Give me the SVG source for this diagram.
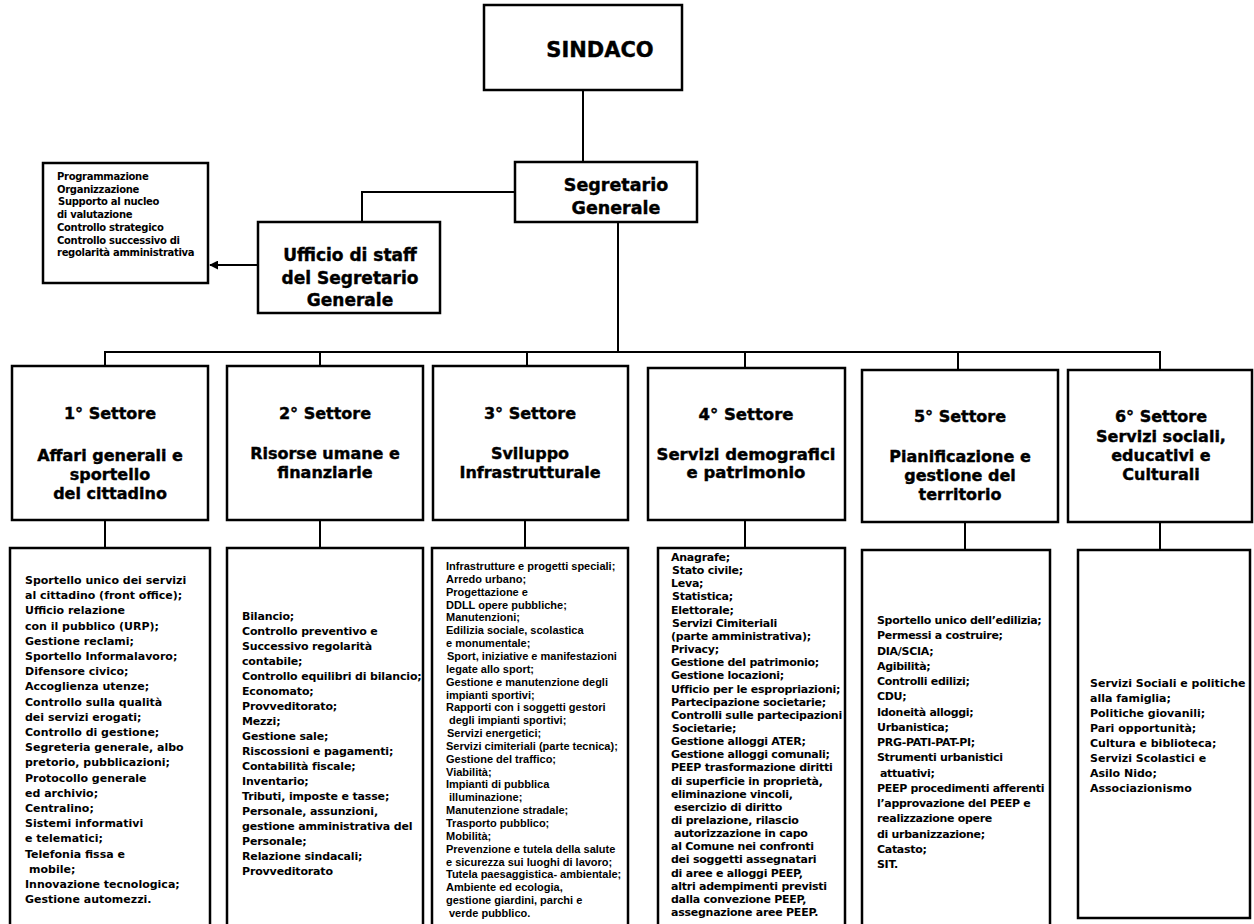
<svg xmlns="http://www.w3.org/2000/svg" width="1254" height="924" viewBox="0 0 1254 924">
<style>
.box{fill:#fff;stroke:#000;stroke-width:2.5}
.ln{fill:none;stroke:#000;stroke-width:2}
.h{font-family:"DejaVu Sans",Verdana,sans-serif;font-weight:bold;fill:#000;text-anchor:middle;stroke:#000;stroke-width:0.4}
.l{font-family:"DejaVu Sans",Verdana,sans-serif;font-weight:bold;fill:#000;font-size:11px}
.n{font-family:"Liberation Sans",Arial,sans-serif;font-weight:bold;fill:#000;font-size:11px}
.s{font-size:10px;letter-spacing:-0.3px}
</style>
<defs>
<marker id="arr" viewBox="0 0 10 10" refX="9" refY="5" markerWidth="4.5" markerHeight="4.5" orient="auto" markerUnits="strokeWidth">
<path d="M0,0 L10,5 L0,10 z" fill="#000"/>
</marker>
</defs>
<rect width="1254" height="924" fill="#fff"/>
<g id="connectors">
<line class="ln" x1="583" y1="90" x2="583" y2="162"/>
<polyline class="ln" points="515,192 362,192 362,222"/>
<line class="ln" x1="618" y1="222" x2="618" y2="352"/>
<line class="ln" x1="258" y1="265" x2="210" y2="265" stroke-width="2.5" marker-end="url(#arr)"/>
<line class="ln" x1="104" y1="352" x2="1161" y2="352"/>
<line class="ln" x1="105" y1="352" x2="105" y2="366"/>
<line class="ln" x1="320" y1="352" x2="320" y2="366"/>
<line class="ln" x1="527" y1="352" x2="527" y2="366"/>
<line class="ln" x1="745" y1="352" x2="745" y2="368"/>
<line class="ln" x1="958" y1="352" x2="958" y2="370"/>
<line class="ln" x1="1160" y1="352" x2="1160" y2="370"/>
<line class="ln" x1="105" y1="520" x2="105" y2="548"/>
<line class="ln" x1="320" y1="520" x2="320" y2="548"/>
<line class="ln" x1="525" y1="520" x2="525" y2="548"/>
<line class="ln" x1="745" y1="520" x2="745" y2="548"/>
<line class="ln" x1="965" y1="522" x2="965" y2="550"/>
<line class="ln" x1="1160" y1="522" x2="1160" y2="550"/>
</g>
<g id="sindaco">
<rect class="box" x="484" y="5" width="198" height="85"/>
<text class="h" x="600" y="57" font-size="21">SINDACO</text>
</g>
<g id="segretario">
<rect class="box" x="515" y="162" width="182" height="60"/>
<text class="h" x="616" y="191" font-size="17.5">Segretario</text>
<text class="h" x="616" y="214" font-size="17.5">Generale</text>
</g>
<g id="ufficio-staff">
<rect class="box" x="258" y="222" width="182" height="91"/>
<text class="h" x="350" y="261" font-size="17">Ufficio di staff</text>
<text class="h" x="350" y="284" font-size="17">del Segretario</text>
<text class="h" x="350" y="306" font-size="17">Generale</text>
</g>
<g id="staff-funzioni">
<rect class="box" x="43" y="163" width="165" height="120"/>
<text class="l s">
<tspan x="57" y="180">Programmazione</tspan>
<tspan x="57" y="192.7">Organizzazione</tspan>
<tspan x="58" y="205.4">Supporto al nucleo</tspan>
<tspan x="57" y="218.1">di valutazione</tspan>
<tspan x="57" y="230.8">Controllo strategico</tspan>
<tspan x="57" y="243.5">Controllo successivo di</tspan>
<tspan x="57" y="256.2">regolarità amministrativa</tspan>
</text>
</g>
<g id="settore1">
<rect class="box" x="12" y="366" width="196" height="154"/>
<text class="h" font-size="16"><tspan x="110" y="419">1° Settore</tspan><tspan x="110" y="461">Affari generali e</tspan><tspan x="110" y="480">sportello</tspan><tspan x="110" y="499">del cittadino</tspan></text>
</g>
<g id="settore2">
<rect class="box" x="227" y="366" width="196" height="154"/>
<text class="h" font-size="16"><tspan x="325" y="419">2° Settore</tspan><tspan x="325" y="459">Risorse umane e</tspan><tspan x="325" y="478">finanziarie</tspan></text>
</g>
<g id="settore3">
<rect class="box" x="433" y="366" width="195" height="154"/>
<text class="h" font-size="16"><tspan x="530" y="419">3° Settore</tspan><tspan x="530" y="459">Sviluppo</tspan><tspan x="530" y="478">Infrastrutturale</tspan></text>
</g>
<g id="settore4">
<rect class="box" x="648" y="368" width="197" height="152"/>
<text class="h" font-size="16.5"><tspan x="746" y="420">4° Settore</tspan><tspan x="746" y="460">Servizi demografici</tspan><tspan x="746" y="478">e patrimonio</tspan></text>
</g>
<g id="settore5">
<rect class="box" x="862" y="370" width="196" height="152"/>
<text class="h" font-size="16"><tspan x="960" y="422">5° Settore</tspan><tspan x="960" y="462">Pianificazione e</tspan><tspan x="960" y="481">gestione del</tspan><tspan x="960" y="500">territorio</tspan></text>
</g>
<g id="settore6">
<rect class="box" x="1068" y="370" width="184" height="152"/>
<text class="h" font-size="16"><tspan x="1161" y="422">6° Settore</tspan><tspan x="1161" y="442">Servizi sociali,</tspan><tspan x="1161" y="461">educativi e</tspan><tspan x="1161" y="480">Culturali</tspan></text>
</g>
<g id="funzioni1">
<rect class="box" x="10" y="548" width="200" height="380"/>
<text class="l">
<tspan x="25" y="584">Sportello unico dei servizi</tspan>
<tspan x="25" y="599.2">al cittadino (front office);</tspan>
<tspan x="25" y="614.4">Ufficio relazione</tspan>
<tspan x="25" y="629.6">con il pubblico (URP);</tspan>
<tspan x="25" y="644.8">Gestione reclami;</tspan>
<tspan x="25" y="660">Sportello Informalavoro;</tspan>
<tspan x="25" y="675.2">Difensore civico;</tspan>
<tspan x="25" y="690.4">Accoglienza utenze;</tspan>
<tspan x="25" y="705.6">Controllo sulla qualità</tspan>
<tspan x="25" y="720.8">dei servizi erogati;</tspan>
<tspan x="25" y="736">Controllo di gestione;</tspan>
<tspan x="25" y="751.2">Segreteria generale, albo</tspan>
<tspan x="25" y="766.4">pretorio, pubblicazioni;</tspan>
<tspan x="25" y="781.6">Protocollo generale</tspan>
<tspan x="25" y="796.8">ed archivio;</tspan>
<tspan x="25" y="812">Centralino;</tspan>
<tspan x="25" y="827.2">Sistemi informativi</tspan>
<tspan x="25" y="842.4">e telematici;</tspan>
<tspan x="25" y="857.6">Telefonia fissa e</tspan>
<tspan x="29" y="872.8">mobile;</tspan>
<tspan x="25" y="888">Innovazione tecnologica;</tspan>
<tspan x="25" y="903.2">Gestione automezzi.</tspan>
</text>
</g>
<g id="funzioni2">
<rect class="box" x="227" y="548" width="196" height="380"/>
<text class="l" letter-spacing="-0.15">
<tspan x="242" y="620">Bilancio;</tspan>
<tspan x="242" y="635">Controllo preventivo e</tspan>
<tspan x="242" y="650">Successivo regolarità</tspan>
<tspan x="242" y="665">contabile;</tspan>
<tspan x="242" y="680">Controllo equilibri di bilancio;</tspan>
<tspan x="242" y="695">Economato;</tspan>
<tspan x="242" y="710">Provveditorato;</tspan>
<tspan x="242" y="725">Mezzi;</tspan>
<tspan x="242" y="740">Gestione sale;</tspan>
<tspan x="242" y="755">Riscossioni e pagamenti;</tspan>
<tspan x="242" y="770">Contabilità fiscale;</tspan>
<tspan x="242" y="785">Inventario;</tspan>
<tspan x="242" y="800">Tributi, imposte e tasse;</tspan>
<tspan x="242" y="815">Personale, assunzioni,</tspan>
<tspan x="242" y="830">gestione amministrativa del</tspan>
<tspan x="242" y="845">Personale;</tspan>
<tspan x="242" y="860">Relazione sindacali;</tspan>
<tspan x="242" y="875">Provveditorato</tspan>
</text>
</g>
<g id="funzioni3">
<rect class="box" x="432" y="548" width="196" height="380"/>
<text class="n">
<tspan x="446" y="570">Infrastrutture e progetti speciali;</tspan>
<tspan x="446" y="582.85">Arredo urbano;</tspan>
<tspan x="446" y="595.7">Progettazione e</tspan>
<tspan x="446" y="608.55">DDLL opere pubbliche;</tspan>
<tspan x="446" y="621.4">Manutenzioni;</tspan>
<tspan x="446" y="634.25">Edilizia sociale, scolastica</tspan>
<tspan x="446" y="647.1">e monumentale;</tspan>
<tspan x="447" y="659.95">Sport, iniziative e manifestazioni</tspan>
<tspan x="446" y="672.8">legate allo sport;</tspan>
<tspan x="446" y="685.65">Gestione e manutenzione degli</tspan>
<tspan x="446" y="698.5">impianti sportivi;</tspan>
<tspan x="446" y="711.35">Rapporti con i soggetti gestori</tspan>
<tspan x="449" y="724.2">degli impianti sportivi;</tspan>
<tspan x="447" y="737.05">Servizi energetici;</tspan>
<tspan x="446" y="749.9">Servizi cimiteriali (parte tecnica);</tspan>
<tspan x="446" y="762.75">Gestione del traffico;</tspan>
<tspan x="446" y="775.6">Viabilità;</tspan>
<tspan x="446" y="788.45">Impianti di pubblica</tspan>
<tspan x="449" y="801.3">illuminazione;</tspan>
<tspan x="446" y="814.15">Manutenzione stradale;</tspan>
<tspan x="446" y="827">Trasporto pubblico;</tspan>
<tspan x="446" y="839.85">Mobilità;</tspan>
<tspan x="446" y="852.7">Prevenzione e tutela della salute</tspan>
<tspan x="446" y="865.55">e sicurezza sui luoghi di lavoro;</tspan>
<tspan x="446" y="878.4">Tutela paesaggistica- ambientale;</tspan>
<tspan x="446" y="891.25">Ambiente ed ecologia,</tspan>
<tspan x="446" y="904.1">gestione giardini, parchi e</tspan>
<tspan x="449" y="916.95">verde pubblico.</tspan>
</text>
</g>
<g id="funzioni4">
<rect class="box" x="658" y="548" width="187" height="380"/>
<text class="l" font-size="10" letter-spacing="-0.25">
<tspan x="671" y="561">Anagrafe;</tspan>
<tspan x="672" y="574.15">Stato civile;</tspan>
<tspan x="671" y="587.3">Leva;</tspan>
<tspan x="672" y="600.45">Statistica;</tspan>
<tspan x="671" y="613.6">Elettorale;</tspan>
<tspan x="672" y="626.75">Servizi Cimiteriali</tspan>
<tspan x="671" y="639.9">(parte amministrativa);</tspan>
<tspan x="671" y="653.05">Privacy;</tspan>
<tspan x="671" y="666.2">Gestione del patrimonio;</tspan>
<tspan x="671" y="679.35">Gestione locazioni;</tspan>
<tspan x="671" y="692.5">Ufficio per le espropriazioni;</tspan>
<tspan x="671" y="705.65">Partecipazione societarie;</tspan>
<tspan x="671" y="718.8">Controlli sulle partecipazioni</tspan>
<tspan x="672" y="731.95">Societarie;</tspan>
<tspan x="671" y="745.1">Gestione alloggi ATER;</tspan>
<tspan x="671" y="758.25">Gestione alloggi comunali;</tspan>
<tspan x="671" y="771.4">PEEP trasformazione diritti</tspan>
<tspan x="671" y="784.55">di superficie in proprietà,</tspan>
<tspan x="671" y="797.7">eliminazione vincoli,</tspan>
<tspan x="674" y="810.85">esercizio di diritto</tspan>
<tspan x="671" y="824">di prelazione, rilascio</tspan>
<tspan x="674" y="837.15">autorizzazione in capo</tspan>
<tspan x="671" y="850.3">al Comune nei confronti</tspan>
<tspan x="671" y="863.45">dei soggetti assegnatari</tspan>
<tspan x="671" y="876.6">di aree e alloggi PEEP,</tspan>
<tspan x="671" y="889.75">altri adempimenti previsti</tspan>
<tspan x="671" y="902.9">dalla convezione PEEP,</tspan>
<tspan x="671" y="916.05">assegnazione aree PEEP.</tspan>
</text>
</g>
<g id="funzioni5">
<rect class="box" x="862" y="550" width="188" height="380"/>
<text class="l" letter-spacing="-0.3">
<tspan x="877" y="624">Sportello unico dell’edilizia;</tspan>
<tspan x="877" y="639.25">Permessi a costruire;</tspan>
<tspan x="877" y="654.5">DIA/SCIA;</tspan>
<tspan x="877" y="669.75">Agibilità;</tspan>
<tspan x="877" y="685">Controlli edilizi;</tspan>
<tspan x="877" y="700.25">CDU;</tspan>
<tspan x="877" y="715.5">Idoneità alloggi;</tspan>
<tspan x="877" y="730.75">Urbanistica;</tspan>
<tspan x="877" y="746">PRG-PATI-PAT-PI;</tspan>
<tspan x="877" y="761.25">Strumenti urbanistici</tspan>
<tspan x="880" y="776.5">attuativi;</tspan>
<tspan x="877" y="791.75">PEEP procedimenti afferenti</tspan>
<tspan x="877" y="807">l’approvazione del PEEP e</tspan>
<tspan x="877" y="822.25">realizzazione opere</tspan>
<tspan x="877" y="837.5">di urbanizzazione;</tspan>
<tspan x="877" y="852.75">Catasto;</tspan>
<tspan x="877" y="868">SIT.</tspan>
</text>
</g>
<g id="funzioni6">
<rect class="box" x="1078" y="550" width="172" height="368"/>
<text class="l">
<tspan x="1090" y="687">Servizi Sociali e politiche</tspan>
<tspan x="1090" y="702">alla famiglia;</tspan>
<tspan x="1090" y="717">Politiche giovanili;</tspan>
<tspan x="1090" y="732">Pari opportunità;</tspan>
<tspan x="1090" y="747">Cultura e biblioteca;</tspan>
<tspan x="1090" y="762">Servizi Scolastici e</tspan>
<tspan x="1090" y="777">Asilo Nido;</tspan>
<tspan x="1090" y="792">Associazionismo</tspan>
</text>
</g>
</svg>
